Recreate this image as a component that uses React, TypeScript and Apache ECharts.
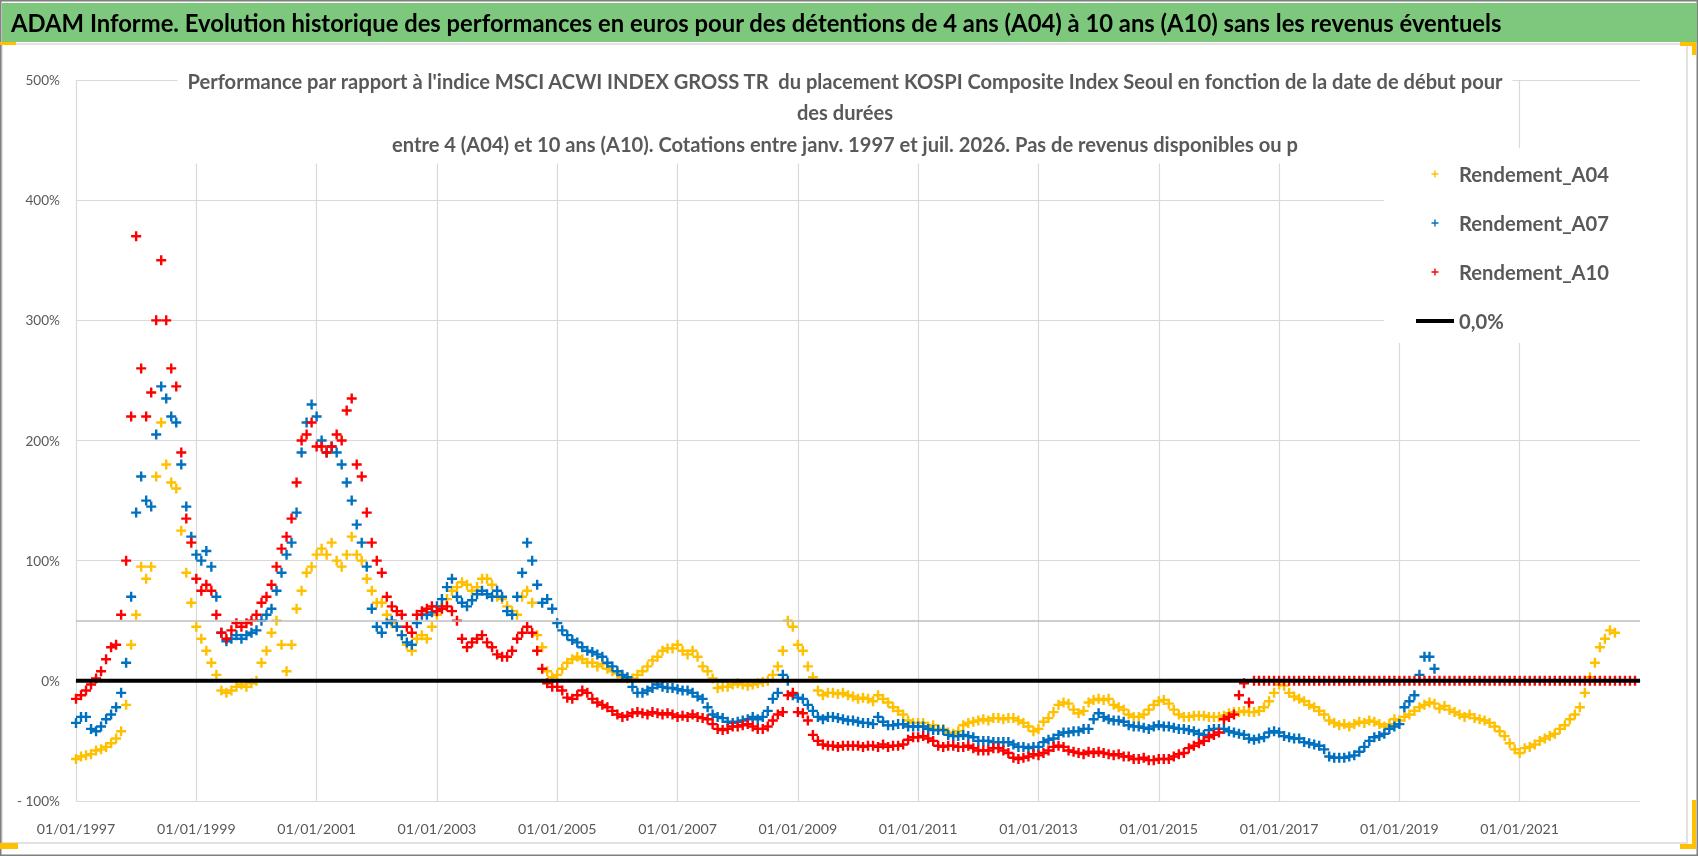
import { useEffect, useRef } from "react";
import * as echarts from "echarts";

// monthly values (%), first value = January 1997
const a04 = [
  -65, -63, -62, -61, -58, -57, -55, -52, -48, -42, -20, 30,
  55, 95, 85, 95, 170, 215, 180, 165, 160, 125, 90, 65,
  45, 35, 25, 15, 5, -8, -10, -8, -5, -3, -5, -2,
  0, 15, 25, 40, 50, 30, 8, 30, 60, 75, 90, 95,
  105, 110, 105, 115, 100, 95, 105, 120, 105, 100, 85, 75,
  65, 65, 55, 48, 45, 38, 30, 25, 35, 38, 35, 45,
  55, 62, 68, 75, 78, 82, 80, 75, 78, 85, 85, 80,
  70, 68, 62, 58, 55, 70, 75, 65, 38, 28, 8, 3,
  5, 10, 15, 18, 20, 18, 15, 15, 12, 14, 10, 8,
  6, 3, 2, 2, 5, 8, 12, 17, 20, 25, 27, 27,
  30, 25, 22, 25, 20, 12, 8, 2, -6, -5, -5, -3,
  -2, -3, -4, -3, -2, -1, 0, 5, 12, 25, 50, 45,
  30, 25, 12, 3, -8, -12, -10, -10, -11, -10, -12, -13,
  -15, -14, -15, -17, -12, -15, -18, -22, -25, -28, -33, -35,
  -35, -35, -38, -37, -40, -40, -43, -44, -42, -37, -35, -34,
  -33, -32, -33, -31, -31, -32, -31, -31, -33, -35, -38, -42,
  -40, -34, -31, -26, -20, -18, -19, -24, -27, -25, -18, -16,
  -15, -16, -15, -20, -22, -24, -28, -30, -30, -28, -24, -20,
  -17, -16, -19, -24, -28, -30, -30, -29, -29, -29, -30, -30,
  -30, -29, -27, -26, -26, -25, -26, -26, -25, -22, -17, -10,
  -3, -4, -10, -13, -15, -17, -20, -22, -25, -28, -33, -35,
  -37, -36, -38, -36, -34, -35, -33, -34, -36, -38, -36, -32,
  -33, -30, -28, -25, -22, -20, -18, -19, -23, -21, -24, -26,
  -28, -30, -28, -31, -32, -33, -35, -38, -42, -46, -52, -57,
  -60, -56, -55, -53, -50, -48, -46, -44, -40, -37, -32, -28,
  -22, -10, 3, 15, 28, 35, 42, 40,
];

const a07 = [
  -35, -30, -30, -40, -42, -38, -32, -28, -22, -10, 15, 70,
  140, 170, 150, 145, 205, 245, 235, 220, 215, 180, 145, 120,
  105, 100, 108, 95, 70, 40, 33, 35, 38, 35, 38, 40,
  42, 50, 55, 60, 75, 90, 105, 115, 140, 190, 215, 230,
  220, 200, 190, 195, 190, 180, 165, 150, 130, 115, 95, 60,
  45, 40, 48, 50, 45, 38, 32, 30, 48, 55, 55, 57,
  62, 68, 78, 85, 70, 65, 62, 67, 72, 75, 72, 70,
  75, 70, 58, 55, 70, 90, 115, 100, 80, 65, 68, 60,
  48, 42, 38, 34, 32, 28, 25, 24, 22, 20, 15, 12,
  8, 5, 3, -5, -10, -10, -8, -6, -3, -5, -6, -6,
  -7, -8, -8, -10, -13, -15, -22, -28, -30, -31, -34, -35,
  -34, -33, -32, -30, -32, -30, -25, -15, -10, 5, 0, -12,
  -14, -15, -20, -25, -30, -32, -30, -30, -31, -32, -33, -33,
  -34, -35, -35, -36, -30, -34, -37, -37, -36, -36, -38, -38,
  -38, -38, -40, -41, -41, -41, -45, -46, -46, -45, -46, -47,
  -50, -50, -50, -51, -51, -51, -51, -53, -55, -55, -56, -55,
  -55, -51, -49, -48, -45, -43, -43, -42, -42, -40, -40, -32,
  -27, -30, -32, -33, -33, -34, -37, -38, -38, -39, -40, -38,
  -37, -38, -38, -39, -40, -40, -41, -42, -44, -45, -41, -40,
  -40, -40, -42, -43, -44, -45, -48, -49, -48, -47, -43, -42,
  -43, -46, -47, -48, -48, -51, -52, -53, -54, -57, -63, -64,
  -64, -64, -63, -62, -59, -55, -50, -47, -46, -44, -40, -38,
  -36, -22, -17, -12, 5, 20, 20, 10,
];

const a10 = [
  -15, -12, -8, -3, 2, 8, 18, 28, 30, 55, 100, 220,
  370, 260, 220, 240, 300, 350, 300, 260, 245, 190, 135, 115,
  85, 75, 80, 75, 55, 40, 35, 42, 48, 45, 48, 50,
  55, 65, 70, 80, 95, 110, 120, 135, 165, 200, 205, 215,
  195, 195, 190, 195, 205, 200, 225, 235, 180, 170, 140, 115,
  100, 90, 70, 62, 58, 55, 45, 40, 55, 58, 60, 62,
  58, 60, 62, 58, 50, 35, 28, 32, 35, 38, 32, 28,
  22, 20, 20, 25, 35, 40, 45, 40, 25, 10, -2, -5,
  -5, -8, -14, -15, -12, -8, -10, -15, -18, -20, -22, -25,
  -28, -30, -29, -27, -26, -27, -28, -26, -27, -28, -27, -28,
  -30, -29, -30, -28, -30, -31, -32, -36, -40, -41, -40, -38,
  -38, -37, -36, -38, -40, -40, -38, -33, -28, -26, -12, -10,
  -26, -27, -33, -45, -50, -53, -54, -54, -55, -54, -54, -54,
  -54, -55, -54, -54, -55, -53, -55, -54, -54, -53, -49, -47,
  -47, -46, -48, -50, -54, -55, -54, -54, -55, -55, -54, -56,
  -58, -58, -58, -56, -56, -58, -60, -64, -65, -64, -63, -61,
  -62, -60, -58, -55, -54, -55, -58, -59, -60, -61, -59, -60,
  -59, -60, -61, -62, -61, -63, -63, -65, -65, -64, -66, -66,
  -65, -65, -65, -63, -61, -60, -56, -54, -52, -50, -47, -45,
  -43, -32, -30, -28, -12, -2, -18, 0, 0, 0, 0, 0,
  0, 0, 0, 0, 0, 0, 0, 0, 0, 0, 0, 0,
  0, 0, 0, 0, 0, 0, 0, 0, 0, 0, 0, 0,
  0, 0, 0, 0, 0, 0, 0, 0, 0, 0, 0, 0,
  0, 0, 0, 0, 0, 0, 0, 0, 0, 0, 0, 0,
  0, 0, 0, 0, 0, 0, 0, 0, 0, 0, 0, 0,
  0, 0, 0, 0, 0, 0, 0, 0, 0, 0, 0, 0,
];

const zeroLine = [0, 0];
const seriesNames = ["Rendement_A04", "Rendement_A07", "Rendement_A10", "0,0%"];
const colors = ["#FFC000", "#0070C0", "#FF0000", "#000000"];

const FIRST_YEAR = 1997;
const YEARS = 26;

const mainTitle =
  "ADAM Informe. Evolution historique des performances en euros pour des détentions de 4 ans (A04) à 10 ans (A10) sans les revenus éventuels";
const subTitle = [
  "Performance par rapport à l'indice MSCI ACWI INDEX GROSS TR  du placement KOSPI Composite Index Seoul en fonction de la date de début pour",
  "des durées",
  "entre 4 (A04) et 10 ans (A10). Cotations entre janv. 1997 et juil. 2026. Pas de revenus disponibles ou p",
];

const FONT = "Lato, 'Noto Sans', sans-serif";
const PLUS = "path://M4,0H6V4H10V6H6V10H4V6H0V4H4Z";
const MARK = "path://M3.8,0H6.2V3.8H10V6.2H6.2V10H3.8V6.2H0V3.8H3.8Z";
const BAR = "path://M0,0H38V4H0Z";

const monthly = (vals: number[]) => vals.map((v, i) => [i / 12, v]);

// font size that makes `text` about `width` px wide
function fitSize(text: string, weight: string, width: number) {
  const ctx = document.createElement("canvas").getContext("2d")!;
  ctx.font = `${weight} 100px ${FONT}`;
  return Math.round((1000 * width) / ctx.measureText(text).width) / 10;
}

export default function App() {
  const ref = useRef<HTMLDivElement | null>(null);

  useEffect(() => {
    const chart = echarts.init(ref.current!, undefined, { renderer: "svg" });

    const titleSize = fitSize("ADAM Informe. Evolution historique des performances en euros pour des déten", "bold", 844);
    const subSize = fitSize(subTitle[0], "bold", 1319);
    const legendSize = fitSize("Rendement_A04", "bold", 150);
    const xSize = fitSize("01/01/1997", "normal", 79);
    const ySize = fitSize("- 100%", "normal", 43);

    const scatter = (k: number, vals: number[]) => ({
      type: "scatter",
      name: seriesNames[k],
      data: monthly(vals),
      symbol: MARK,
      symbolSize: 10,
      itemStyle: { color: colors[k], opacity: 1 },
      silent: true,
    });

    chart.setOption({
      animation: false,
      textStyle: { fontFamily: FONT },
      title: {
        text: subTitle.join("\n"),
        left: 836,
        top: 61,
        textAlign: "center",
        backgroundColor: "#ffffff",
        padding: [4, 9, 4, 9],
        textStyle: { fontFamily: FONT, fontSize: subSize, fontWeight: "bold", color: "#595959", lineHeight: 31.5 },
      },
      legend: {
        orient: "vertical",
        left: 1384,
        top: 148,
        padding: [15, 32, 11, 32],
        backgroundColor: "#ffffff",
        itemWidth: 38,
        itemHeight: 7,
        itemGap: 27,
        selectedMode: false,
        textStyle: { fontFamily: FONT, fontSize: legendSize, color: "#595959", fontWeight: "bold", lineHeight: 22 },
        data: [
          { name: seriesNames[0], icon: PLUS },
          { name: seriesNames[1], icon: PLUS },
          { name: seriesNames[2], icon: PLUS },
          { name: seriesNames[3], icon: BAR },
        ],
      },
      grid: { left: 76, right: 58, top: 80, bottom: 55 },
      xAxis: {
        type: "value",
        min: 0,
        max: YEARS,
        interval: 2,
        axisLine: { lineStyle: { color: "#bfbfbf", width: 1.5 } },
        axisTick: { show: false },
        splitLine: { show: true, showMaxLine: false, lineStyle: { color: "#d9d9d9", width: 1.2 } },
        axisLabel: {
          margin: 20,
          fontSize: xSize,
          color: "#595959",
          fontFamily: FONT,
          showMaxLabel: false,
          formatter: (v: number) => `01/01/${FIRST_YEAR + v}`,
        },
      },
      yAxis: {
        type: "value",
        min: -100,
        max: 500,
        interval: 100,
        axisLine: { show: false },
        axisTick: { show: false },
        splitLine: { lineStyle: { color: "#d9d9d9", width: 1.2 } },
        axisLabel: {
          margin: 16,
          fontSize: ySize,
          color: "#595959",
          fontFamily: FONT,
          formatter: (v: number) => (v < 0 ? `- ${-v}%` : `${v}%`),
        },
      },
      series: [
        scatter(0, a04),
        scatter(1, a07),
        {
          type: "line",
          name: seriesNames[3],
          data: [[0, zeroLine[0]], [YEARS, zeroLine[1]]],
          symbol: "none",
          silent: true,
          lineStyle: { color: colors[3], width: 4 },
          itemStyle: { color: colors[3] },
          markLine: {
            silent: true,
            symbol: "none",
            label: { show: false },
            lineStyle: { color: "#bfbfbf", width: 1.5, type: "solid" },
            data: [{ yAxis: 50 }],
          },
        },
        scatter(2, a10),
      ],
      graphic: [
        { type: "rect", z: -10, shape: { x: 2, y: 44, width: 1685, height: 799 }, style: { fill: "#fff", stroke: "#d9d9d9", lineWidth: 1.5 } },
        { type: "rect", shape: { x: 0.75, y: 0.75, width: 1696.5, height: 854.5 }, style: { fill: "none", stroke: "#808080", lineWidth: 1.5 } },
        { type: "rect", shape: { x: 2, y: 3, width: 1695, height: 39 }, style: { fill: "#7ec87e" } },
        {
          type: "text",
          x: 11,
          y: 23,
          style: { text: mainTitle, fill: "#000", font: `bold ${titleSize}px ${FONT}`, textVerticalAlign: "middle" },
        },
        { type: "rect", shape: { x: 0, y: 42, width: 16, height: 3 }, style: { fill: "#FFC000" } },
        { type: "rect", shape: { x: 1680, y: 42, width: 16, height: 4 }, style: { fill: "#FFC000" } },
        { type: "rect", shape: { x: 1692, y: 42, width: 4, height: 13 }, style: { fill: "#FFC000" } },
        { type: "rect", shape: { x: 1692, y: 800, width: 4, height: 49 }, style: { fill: "#FFC000" } },
        { type: "rect", shape: { x: 1680, y: 844, width: 16, height: 5 }, style: { fill: "#FFC000" } },
        { type: "rect", shape: { x: 0, y: 843, width: 18, height: 6 }, style: { fill: "#FFC000" } },
      ],
    });

    return () => chart.dispose();
  }, []);

  return <div ref={ref} style={{ position: "fixed", left: 0, top: 0, width: 1698, height: 856 }} />;
}
